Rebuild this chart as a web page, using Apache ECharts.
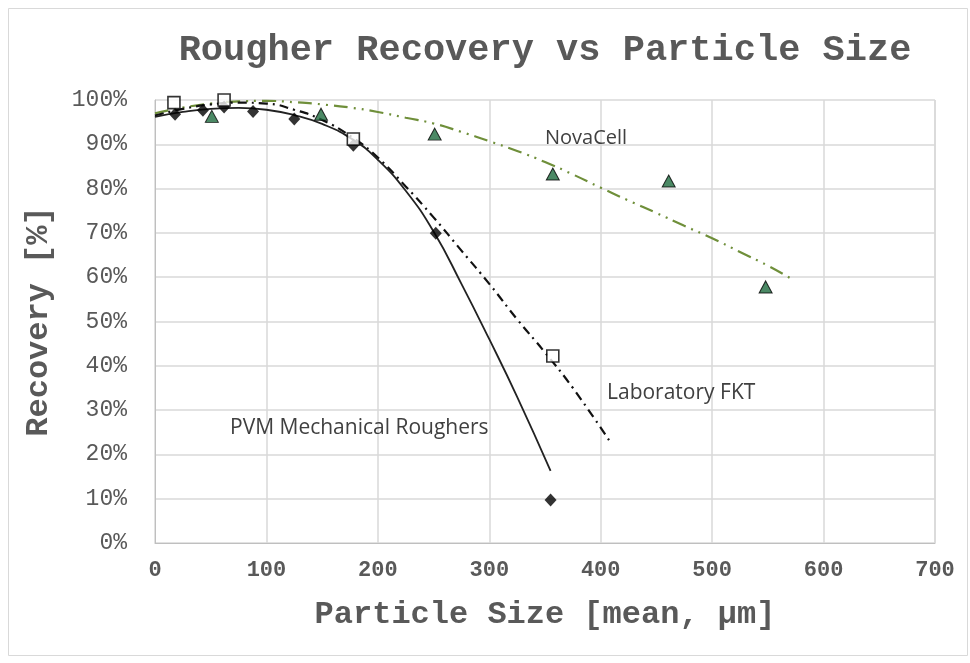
<!DOCTYPE html>
<html>
<head>
<meta charset="utf-8">
<script src="https://cdn.jsdelivr.net/npm/echarts@6/dist/echarts.min.js"></script>
<style>html,body{margin:0;padding:0;background:#fff}#c{width:970px;height:663px}</style>
</head>
<body>
<div id="c"></div>
<script>
// ---- data ----
const xTicks = [0, 100, 200, 300, 400, 500, 600, 700];
const yTicks = [0, 10, 20, 30, 40, 50, 60, 70, 80, 90, 100];

const pvmX = [18, 43, 62, 88, 125, 178, 252, 355];
const pvmY = [96.8, 97.7, 98.4, 97.4, 95.7, 89.8, 69.9, 9.7];

const labX = [17, 62, 178, 357];
const labY = [99.4, 100, 91.2, 42.2];

const novaX = [51, 149, 251, 357, 461, 548];
const novaY = [96.3, 96.8, 92.3, 83.3, 81.7, 57.8];

// trendlines
const pvmTrendX = [0, 25, 50, 75, 100, 125, 150, 178, 200, 225, 250, 275, 300, 325, 355];
const pvmTrendY = [96.2, 97.3, 98.0, 98.2, 97.8, 96.6, 94.6, 91.0, 86.5, 79.5, 70.3, 58.5, 46.0, 33.0, 16.3];

const labTrendX = [0, 25, 50, 75, 100, 125, 150, 178, 200, 225, 250, 275, 300, 325, 350, 375, 408];
const labTrendY = [96.5, 98.0, 99.0, 99.4, 99.2, 97.8, 95.5, 91.4, 87.0, 80.5, 73.5, 66.0, 58.5, 50.5, 43.0, 35.0, 23.0];

const novaTrendX = [0, 25, 50, 75, 100, 125, 150, 175, 200, 225, 250, 275, 300, 325, 350, 375, 400, 425, 450, 475, 500, 525, 550, 570];
const novaTrendY = [97.0, 98.3, 99.2, 99.7, 99.8, 99.5, 99.0, 98.3, 97.3, 96.0, 94.7, 92.8, 90.7, 88.5, 86.0, 83.2, 80.2, 77.3, 74.5, 71.6, 68.8, 65.7, 62.6, 59.8];

const seriesNames = ['PVM Mechanical Roughers', 'Laboratory FKT', 'NovaCell'];
const titleText = 'Rougher Recovery vs Particle Size';
const xTitle = 'Particle Size [mean, \u00b5m]';
const yTitle = 'Recovery [%]';

const zip = (xs, ys) => xs.map((x, i) => [x, ys[i]]);

const chart = echarts.init(document.getElementById('c'), null, {renderer: 'canvas'});
const mono = '"Liberation Mono", "DejaVu Sans Mono", monospace';
const sans = '"Open Sans", "Noto Sans", sans-serif';
const labelGray = '#595959';

chart.setOption({
  animation: false,
  backgroundColor: '#ffffff',
  title: {
    text: titleText,
    left: 540, top: 27, textAlign: 'center',
    textStyle: {fontFamily: mono, fontWeight: 'bold', fontSize: 37, color: labelGray}
  },
  grid: {left: 155, right: 35, top: 100, bottom: 120, containLabel: false},
  xAxis: {
    type: 'value', min: 0, max: 700, interval: 100,
    name: xTitle, nameLocation: 'middle', nameGap: 56,
    nameTextStyle: {fontFamily: mono, fontWeight: 'bold', fontSize: 32, color: labelGray},
    axisLine: {show: true, lineStyle: {color: '#bfbfbf'}},
    axisTick: {show: false},
    axisLabel: {fontFamily: mono, fontWeight: 'bold', fontSize: 22, color: labelGray, margin: 16,
      formatter: v => xTicks.includes(v) ? String(v) : ''},
    splitLine: {show: true, lineStyle: {color: '#d9d9d9', width: 1.5}}
  },
  yAxis: {
    type: 'value', min: 0, max: 100, interval: 10,
    name: yTitle, nameLocation: 'middle', nameGap: 100, nameRotate: 90,
    nameTextStyle: {fontFamily: mono, fontWeight: 'bold', fontSize: 32, color: labelGray},
    axisLine: {show: true, lineStyle: {color: '#bfbfbf'}},
    axisTick: {show: false},
    axisLabel: {fontFamily: mono, fontSize: 23, color: labelGray, margin: 28,
      formatter: v => yTicks.includes(v) ? v + '%' : ''},
    splitLine: {show: true, lineStyle: {color: '#d9d9d9', width: 1.5}}
  },
  graphic: [
    {type: 'rect', shape: {x: 8.5, y: 8.5, width: 959, height: 647},
     style: {fill: 'none', stroke: '#d9d9d9', lineWidth: 1}, silent: true, z: -10},
    {type: 'line', shape: {x1: 935, y1: 100, x2: 935, y2: 543}, style: {stroke: '#d9d9d9', lineWidth: 1.5}, z: -5},
    {type: 'text', x: 545, y: 138, z: 10, style: {text: 'NovaCell', fontFamily: sans, fontSize: 20, fill: '#404040', verticalAlign: 'middle'}},
    {type: 'text', x: 607, y: 393, z: 10, style: {text: 'Laboratory FKT', fontFamily: sans, fontSize: 21, fill: '#404040', verticalAlign: 'middle'}},
    {type: 'text', x: 230, y: 428, z: 10, style: {text: 'PVM Mechanical Roughers', fontFamily: sans, fontSize: 21, fill: '#404040', verticalAlign: 'middle'}}
  ],
  series: [
    {
      name: seriesNames[2] + ' trend', type: 'line', smooth: true, showSymbol: false, symbol: 'none',
      data: zip(novaTrendX, novaTrendY), z: 2,
      lineStyle: {color: '#6f8f3a', width: 2.2, type: [14, 6, 2, 6, 2, 6]}
    },
    {
      name: seriesNames[1] + ' trend', type: 'line', smooth: true, showSymbol: false, symbol: 'none',
      data: zip(labTrendX, labTrendY), z: 2,
      lineStyle: {color: '#111111', width: 2.2, type: [9, 5, 2, 5]}
    },
    {
      name: seriesNames[0] + ' trend', type: 'line', smooth: true, showSymbol: false, symbol: 'none',
      data: zip(pvmTrendX, pvmTrendY), z: 2,
      lineStyle: {color: '#222222', width: 1.8, type: 'solid'}
    },
    {
      name: seriesNames[2], type: 'scatter', symbol: 'triangle', symbolSize: [13, 12],
      data: zip(novaX, novaY), z: 5,
      itemStyle: {color: '#1e6b3e', borderColor: '#000', borderWidth: 1}
    },
    {
      name: seriesNames[0], type: 'scatter', symbol: 'diamond', symbolSize: [12, 13],
      data: zip(pvmX, pvmY), z: 6,
      itemStyle: {color: '#000', borderColor: '#000', borderWidth: 0}
    },
    {
      name: seriesNames[1], type: 'scatter', symbol: 'rect', symbolSize: 12,
      data: zip(labX, labY), z: 7,
      itemStyle: {color: '#ffffff', borderColor: '#000', borderWidth: 1.6}
    }
  ]
});
</script>
</body>
</html>
